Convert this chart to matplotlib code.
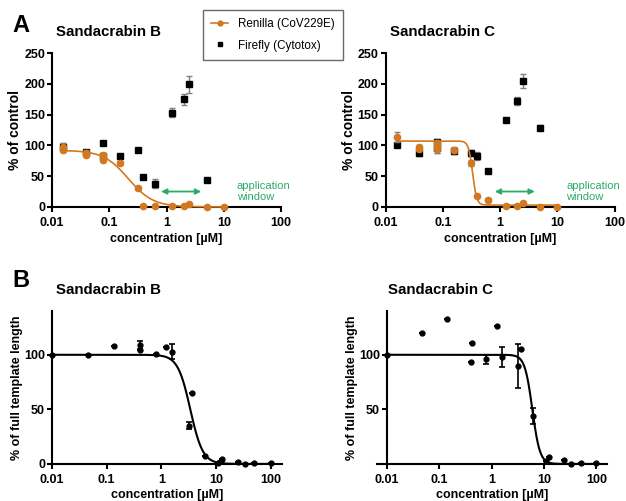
import numpy as np
import matplotlib
matplotlib.use("Agg")
import matplotlib.pyplot as plt
from matplotlib.lines import Line2D

plt.rcParams['font.family'] = ['Liberation Sans', 'DejaVu Sans']
plt.rcParams['font.weight'] = 'bold'

# ---------------- Panel A data ----------------
# Sandacrabin B
aB_ren_x = [0.0156, 0.0156, 0.039, 0.039, 0.078, 0.078, 0.078, 0.156, 0.3125, 0.39, 0.625, 1.25, 2.0, 2.5, 5.0, 10.0]
aB_ren_y = [98, 93, 88, 84, 84, 80, 76, 72, 30, 2, 1, 1, 1, 4, 0, 0]
aB_ren_e = [6, 3, 4, 3, 4, 3, 2, 3, 2, 0, 0, 0, 0, 0, 0, 0]
aB_ff_x = [0.0156, 0.039, 0.078, 0.078, 0.156, 0.3125, 0.39, 0.625, 1.25, 2.0, 2.5, 5.0]
aB_ff_y = [98, 90, 104, 82, 83, 92, 49, 38, 153, 175, 199, 43]
aB_ff_e = [6, 3, 2, 3, 2, 2, 2, 8, 7, 9, 14, 2]
aB_fit = dict(top=92, bottom=0, ic50=0.215, hill=2.0)

# Sandacrabin C
aC_ren_x = [0.0156, 0.039, 0.039, 0.078, 0.078, 0.078, 0.156, 0.308, 0.39, 0.625, 1.25, 2.0, 2.5, 5.0, 10.0]
aC_ren_y = [113, 97, 94, 99, 94, 104, 92, 71, 18, 11, 2, 2, 6, 0.5, 0]
aC_ren_e = [8, 4, 3, 5, 6, 4, 5, 5, 2, 3, 0, 0, 0, 0, 0]
aC_ff_x = [0.0156, 0.039, 0.078, 0.078, 0.156, 0.308, 0.39, 0.625, 1.25, 2.0, 2.5, 5.0]
aC_ff_y = [100, 88, 106, 95, 91, 87, 83, 59, 142, 172, 205, 129]
aC_ff_e = [3, 5, 4, 8, 5, 5, 6, 2, 3, 6, 11, 4]
aC_fit = dict(top=107, bottom=3, ic50=0.33, hill=12.0)

# ---------------- Panel B data ----------------
bB_x = [0.01, 0.045, 0.137, 0.4, 0.41, 0.79, 1.22, 1.57, 3.2, 3.7, 6.4, 11.1, 12.4, 13.0, 25, 33.8, 50.8, 100]
bB_y = [100, 100, 108, 109, 104, 101, 107, 103, 35, 65, 7, 1.2, 3, 4.3, 2, 0, 1, 0.6]
bB_e = [0, 0, 0, 4, 0, 0, 0, 7, 3, 0, 0, 0, 0, 0, 0, 0, 0, 0]
bB_fit = dict(top=100, bottom=0, ic50=3.4, hill=3.8)

bC_x = [0.01, 0.046, 0.139, 0.40, 0.42, 0.79, 1.25, 1.58, 3.15, 3.7, 6.3, 11.0, 12.5, 24.7, 33.3, 50, 100]
bC_y = [100, 120, 133, 93, 111, 96, 126, 98, 90, 105, 44, 2.5, 6, 3.7, 0, 1, 0.6]
bC_e = [0, 0, 0, 0, 0, 4, 0, 9, 20, 0, 7, 0, 0, 0, 0, 0, 0]
bC_fit = dict(top=100, bottom=0, ic50=6.0, hill=6.0)

ORANGE = '#D2781E'
GREEN = '#2DAA6A'
GRAY = '#808080'


def sigmoid(x, top, bottom, ic50, hill):
    return bottom + (top - bottom) / (1 + (x / ic50) ** hill)


fig = plt.figure(figsize=(6.26, 5.01), dpi=100)


def style_axes(ax):
    for s in ['top', 'right']:
        ax.spines[s].set_visible(False)
    ax.spines['left'].set_linewidth(1.5)
    ax.spines['bottom'].set_linewidth(1.5)
    ax.tick_params(axis='both', which='major', direction='out', length=3.5, width=1.5,
                   labelsize=9)
    ax.tick_params(axis='y', which='major', pad=1.5)
    ax.tick_params(axis='x', which='major', pad=3.5)
    ax.tick_params(axis='both', which='minor', length=0)
    ax.set_xscale('log')
    ax.set_xticks([0.01, 0.1, 1, 10, 100])
    ax.set_xticklabels(['0.01', '0.1', '1', '10', '100'])
    for lab in ax.get_xticklabels() + ax.get_yticklabels():
        lab.set_fontweight('bold')


def panel_a(rect, title, rx, ry, re, fx, fy, fe, fit, text_x):
    ax = fig.add_axes(rect)
    style_axes(ax)
    ax.set_xlim(0.01, 100)
    ax.set_ylim(0, 250)
    ax.set_yticks([0, 50, 100, 150, 200, 250])
    for lab in ax.get_yticklabels():
        lab.set_fontweight('bold')
    ax.errorbar(fx, fy, yerr=fe, fmt='s', color='black', ms=4.5, ecolor=GRAY,
                elinewidth=1, capsize=2, capthick=1, clip_on=False, zorder=3)
    xx = np.logspace(np.log10(0.0156), np.log10(10), 300)
    ax.plot(xx, sigmoid(xx, **fit), color=ORANGE, lw=1.2, zorder=4, clip_on=False)
    ax.errorbar(rx, ry, yerr=re, fmt='o', color=ORANGE, ms=4.5, ecolor=GRAY,
                elinewidth=1, capsize=2, capthick=1, clip_on=False, zorder=5)
    ax.annotate('', xy=(0.72, 25), xytext=(4.5, 25),
                arrowprops=dict(arrowstyle='<|-|>', color=GREEN, lw=1.3,
                                mutation_scale=8))
    ax.text(text_x, 25, 'application\nwindow', color=GREEN, fontsize=8,
            fontweight='normal', va='center', ha='left', linespacing=1.2)
    ax.set_xlabel('concentration [µM]', fontsize=9, fontweight='bold', labelpad=3)
    ax.set_ylabel('% of control', fontsize=10, fontweight='bold', labelpad=1.5)
    ax.set_title(title, fontsize=10.8, fontweight='bold', loc='left', x=0.017, pad=12)
    return ax


def panel_b(rect, title, x, y, e, fit, hide_zero=False):
    ax = fig.add_axes(rect)
    style_axes(ax)
    if hide_zero:
        ax.set_xlim(0.0064, 162)
        ax.spines['left'].set_position(('data', 0.01))
        ax.set_yticks([50, 100])
    else:
        ax.set_xlim(0.01, 160)
        ax.set_yticks([0, 50, 100])
    ax.set_ylim(0, 140)
    for lab in ax.get_yticklabels():
        lab.set_fontweight('bold')
    xx = np.logspace(-2, 2, 400)
    ax.plot(xx, sigmoid(xx, **fit), color='black', lw=1.5, zorder=3)
    ax.errorbar(x, y, yerr=e, fmt='o', color='black', ms=3.5, ecolor='black',
                elinewidth=1.2, capsize=2.5, capthick=1.2, clip_on=False, zorder=4)
    ax.set_xlabel('concentration [µM]', fontsize=9, fontweight='bold', labelpad=2.5)
    ax.set_ylabel('% of full template length', fontsize=9, fontweight='bold', labelpad=0.5)
    ax.set_title(title, fontsize=10.8, fontweight='bold', loc='left',
                 x=(0.048 if hide_zero else 0.017), pad=12)
    return ax


axA1 = panel_a([0.083, 0.587, 0.366, 0.307], 'Sandacrabin B',
               aB_ren_x, aB_ren_y, aB_ren_e, aB_ff_x, aB_ff_y, aB_ff_e, aB_fit, 17)
axA2 = panel_a([0.616, 0.587, 0.366, 0.307], 'Sandacrabin C',
               aC_ren_x, aC_ren_y, aC_ren_e, aC_ff_x, aC_ff_y, aC_ff_e, aC_fit, 14.2)

axB1 = panel_b([0.083, 0.074, 0.367, 0.305], 'Sandacrabin B', bB_x, bB_y, bB_e, bB_fit)
axB2 = panel_b([0.602, 0.074, 0.368, 0.305], 'Sandacrabin C', bC_x, bC_y, bC_e, bC_fit,
               hide_zero=True)

# legend
handles = [Line2D([], [], color=ORANGE, marker='o', ms=3.5, lw=1.2),
           Line2D([], [], color='black', marker='s', ms=3.5, lw=0)]
fig.legend(handles, ['Renilla (CoV229E)', 'Firefly (Cytotox)'],
           loc='upper left', bbox_to_anchor=(0.324, 0.98), borderaxespad=0,
           frameon=True, fancybox=False, edgecolor='#444444',
           prop={'weight': 'normal', 'size': 8.4}, handlelength=1.5,
           handletextpad=0.8, borderpad=0.7, labelspacing=0.8)

fig.text(0.02, 0.95, 'A', fontsize=17, fontweight='bold', va='center')
fig.text(0.02, 0.44, 'B', fontsize=17, fontweight='bold', va='center')

fig.savefig('out.png', dpi=100)
